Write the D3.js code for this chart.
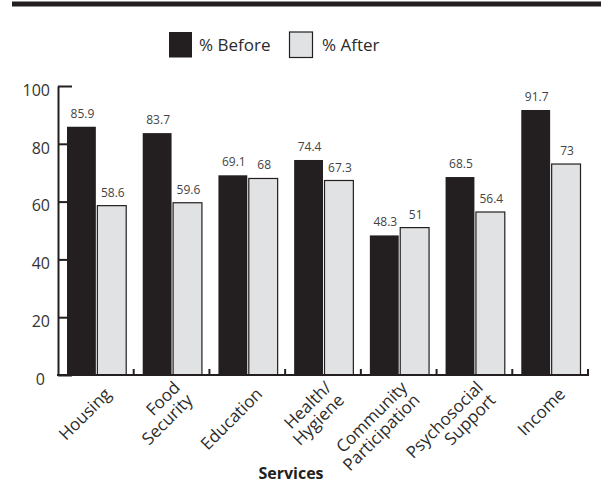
<!DOCTYPE html>
<html>
<head>
<meta charset="utf-8">
<script src="https://cdn.jsdelivr.net/npm/d3@7/dist/d3.min.js"></script>
<style>
  html, body { margin: 0; padding: 0; background: #fff; }
  svg { display: block; font-family: "Open Sans", "Noto Sans", sans-serif; }
</style>
</head>
<body>
<svg id="chart" width="601" height="486"></svg>
<script>
// Services and the share of respondents reporting a need, before and after
const categories = [
  ["Housing"],
  ["Food", "Security"],
  ["Education"],
  ["Health/", "Hygiene"],
  ["Community", "Participation"],
  ["Psychosocial", "Support"],
  ["Income"]
];
const beforeValues = [85.9, 83.7, 69.1, 74.4, 48.3, 68.5, 91.7];
const afterValues  = [58.6, 59.6, 68, 67.3, 51, 56.4, 73];
const seriesNames = ["% Before", "% After"];
const yTicks = [0, 20, 40, 60, 80, 100];

const ink = "#231f20";
const fills = { "% Before": "#231f20", "% After": "#e1e2e4" };

const svg = d3.select("#chart");
const keys = categories.map(c => c.join(" "));

const rows = keys.map((k, i) => ({
  key: k,
  lines: categories[i],
  values: [
    { series: seriesNames[0], value: beforeValues[i] },
    { series: seriesNames[1], value: afterValues[i] }
  ]
}));

const x = d3.scaleBand().domain(keys).range([58, 588]).paddingInner(0).paddingOuter(0);
const xSub = d3.scaleBand().domain(seriesNames).range([9, x.bandwidth() - 7.5]).paddingInner(0.05);
const y = d3.scaleLinear().domain([0, 100]).range([375, 86]);

// heavy rule across the top
svg.append("rect").attr("x", 12).attr("y", 1.5).attr("width", 589).attr("height", 5).attr("fill", ink);

// legend
const legend = svg.append("g");
const legendItems = [
  { name: seriesNames[0], x: 169, tx: 199 },
  { name: seriesNames[1], x: 289.5, tx: 322 }
];
legendItems.forEach(d => {
  legend.append("rect")
    .attr("x", d.x).attr("y", 32).attr("width", 23).attr("height", 25.5)
    .attr("fill", fills[d.name])
    .attr("stroke", d.name === seriesNames[1] ? ink : "none")
    .attr("stroke-width", 1.2);
  legend.append("text")
    .attr("x", d.tx).attr("y", 51)
    .attr("font-size", 17).attr("fill", "#2b2b2b")
    .text(d.name);
});

// y axis: ticks point into the plot, labels on the left
const yAxis = d3.axisLeft(y).tickValues(yTicks).tickSize(-14).tickSizeOuter(0).tickPadding(8);
const gy = svg.append("g").attr("transform", "translate(58,0)").call(yAxis);
gy.select(".domain").attr("stroke", ink).attr("stroke-width", 2);
gy.selectAll(".tick line").attr("stroke", ink).attr("stroke-width", 2);
gy.selectAll(".tick text")
  .attr("font-size", 16).attr("fill", "#333")
  .attr("font-family", "Open Sans, Noto Sans, sans-serif")
  .attr("dy", "0.58em")
  .attr("dx", d => d === 0 ? -5 : 0);

// bars
const groups = svg.append("g").selectAll("g")
  .data(rows).join("g")
  .attr("transform", d => `translate(${x(d.key)},0)`);

groups.selectAll("rect")
  .data(d => d.values).join("rect")
  .attr("x", d => xSub(d.series))
  .attr("y", d => y(d.value))
  .attr("width", xSub.bandwidth())
  .attr("height", d => y(0) - y(d.value))
  .attr("fill", d => fills[d.series])
  .attr("stroke", d => d.series === seriesNames[1] ? ink : "none")
  .attr("stroke-width", 1.2);

groups.selectAll("text.value")
  .data(d => d.values).join("text")
  .attr("class", "value")
  .attr("x", d => xSub(d.series) + xSub.bandwidth() / 2 + 1)
  .attr("y", d => y(d.value) - 9)
  .attr("text-anchor", "middle")
  .attr("font-size", 12).attr("fill", "#444")
  .text(d => d.value);

// x axis baseline with short upward ticks at the group boundaries
const boundaries = keys.slice(1).map(k => x(k)).concat([x.range()[1]]);
const gx = svg.append("g");
gx.append("line")
  .attr("x1", 57).attr("x2", x.range()[1] + 1)
  .attr("y1", y(0)).attr("y2", y(0))
  .attr("stroke", ink).attr("stroke-width", 2);
gx.selectAll("line.sep")
  .data(boundaries).join("line")
  .attr("class", "sep")
  .attr("x1", d => d).attr("x2", d => d)
  .attr("y1", y(0)).attr("y2", y(0) - 6)
  .attr("stroke", ink).attr("stroke-width", 2);

// rotated category labels
const labels = svg.append("g").selectAll("text")
  .data(rows).join("text")
  .attr("transform", d => `translate(${x(d.key) + x.bandwidth() / 2 + 12},${y(0) + 16}) rotate(-45)`)
  .attr("text-anchor", "end")
  .attr("font-size", 17).attr("fill", "#2b2b2b");
labels.selectAll("tspan")
  .data(d => d.lines.map((t, i) => ({ t, i, n: d.lines.length })))
  .join("tspan")
  .attr("x", 0)
  .attr("dy", d => d.i === 0 ? (d.n > 1 ? "-0.2em" : "0.35em") : "1.05em")
  .text(d => d.t);

// axis title
svg.append("text")
  .attr("x", 291).attr("y", 479)
  .attr("text-anchor", "middle")
  .attr("font-size", 16).attr("font-weight", "bold").attr("fill", ink)
  .text("Services");
</script>
</body>
</html>
